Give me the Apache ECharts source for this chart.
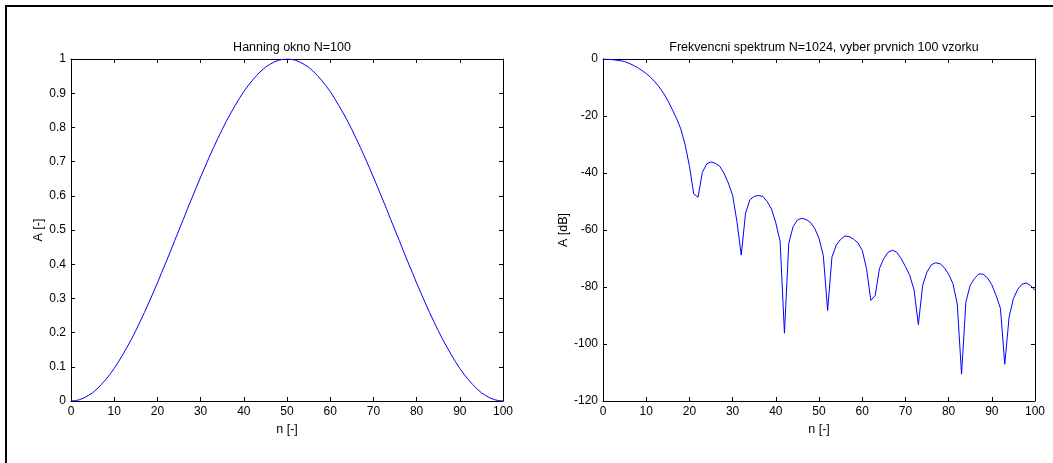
<!DOCTYPE html>
<html>
<head>
<meta charset="utf-8">
<script src="https://cdn.jsdelivr.net/npm/echarts@6/dist/echarts.min.js"></script>
<style>
html,body{margin:0;padding:0;background:#fff;}
#chart{width:1053px;height:463px;}
</style>
</head>
<body>
<div id="chart"></div>
<script>
// ---- data ----
const leftTitle = 'Hanning okno N=100';
const rightTitle = 'Frekvencni spektrum N=1024, vyber prvnich 100 vzorku';
const xName = 'n [-]';
const leftYName = 'A [-]';
const rightYName = 'A [dB]';

const sampleIndex = Array.from({length: 101}, (_, i) => i); // n = 0..100

const hanningValues = [
  0.000, 0.001, 0.004, 0.009, 0.016, 0.024, 0.035, 0.048, 0.062, 0.078,
  0.095, 0.115, 0.136, 0.158, 0.181, 0.206, 0.232, 0.259, 0.287, 0.316,
  0.345, 0.376, 0.406, 0.437, 0.469, 0.500, 0.531, 0.563, 0.594, 0.624,
  0.655, 0.684, 0.713, 0.741, 0.768, 0.794, 0.819, 0.842, 0.864, 0.885,
  0.905, 0.922, 0.938, 0.952, 0.965, 0.976, 0.984, 0.991, 0.996, 0.999,
  1.000,
  0.999, 0.996, 0.991, 0.984, 0.976, 0.965, 0.952, 0.938, 0.922, 0.905,
  0.885, 0.864, 0.842, 0.819, 0.794, 0.768, 0.741, 0.713, 0.684, 0.655,
  0.624, 0.594, 0.563, 0.531, 0.500, 0.469, 0.437, 0.406, 0.376, 0.345,
  0.316, 0.287, 0.259, 0.232, 0.206, 0.181, 0.158, 0.136, 0.115, 0.095,
  0.078, 0.062, 0.048, 0.035, 0.024, 0.016, 0.009, 0.004, 0.001, 0.000
];

const spectrumDb = [
  0.0, -0.1, -0.2, -0.4, -0.6, -0.9, -1.5, -2.2, -3.0, -4.0,
  -5.1, -6.4, -8.0, -9.8, -12.0, -14.6, -17.6, -20.8, -24.5, -30.0,
  -37.5, -47.3, -48.5, -39.8, -36.8, -36.1, -36.6, -37.6, -40.0, -43.5,
  -47.8, -57.0, -68.8, -54.1, -49.4, -48.2, -47.9, -48.2, -50.0, -52.6,
  -57.5, -64.0, -96.2, -64.7, -58.8, -56.5, -55.9, -56.3, -57.3, -59.4,
  -62.9, -69.0, -88.2, -69.5, -65.3, -63.3, -62.1, -62.3, -63.2, -64.5,
  -67.1, -73.5, -84.7, -83.0, -73.5, -70.0, -67.8, -67.1, -67.8, -70.0,
  -72.8, -75.9, -81.0, -93.2, -79.4, -74.7, -72.2, -71.5, -71.8, -73.2,
  -75.5, -78.8, -85.9, -110.6, -85.3, -79.4, -77.0, -75.4, -75.5, -76.8,
  -79.2, -83.0, -87.5, -107.1, -90.6, -84.1, -80.8, -79.0, -78.6, -79.5,
  -81.2
];

const xTicks = [0, 10, 20, 30, 40, 50, 60, 70, 80, 90, 100];
const leftYTicks = ['0', '0.1', '0.2', '0.3', '0.4', '0.5', '0.6', '0.7', '0.8', '0.9', '1'];
const rightYTicks = [-120, -100, -80, -60, -40, -20, 0];

// ---- chart ----
const FONT = '"Liberation Sans", Arial, Helvetica, sans-serif';
const black = '#000';

function mainX(grid, name) {
  return {
    gridIndex: grid, type: 'value', position: 'bottom',
    min: xTicks[0], max: xTicks[xTicks.length - 1], interval: xTicks[1] - xTicks[0],
    axisLine: {show: true, onZero: false, lineStyle: {color: black, width: 1}},
    axisTick: {show: true, inside: true, length: 4, lineStyle: {color: black}},
    axisLabel: {color: black, fontSize: 12, fontFamily: FONT, margin: 5},
    splitLine: {show: false},
    name: name, nameLocation: 'middle', nameGap: 22,
    nameTextStyle: {color: black, fontSize: 12.5, fontFamily: FONT}
  };
}
function topX(grid) {
  return {
    gridIndex: grid, type: 'value', position: 'top',
    min: xTicks[0], max: xTicks[xTicks.length - 1], interval: xTicks[1] - xTicks[0],
    axisLine: {show: true, onZero: false, lineStyle: {color: black, width: 1}},
    axisTick: {show: true, inside: true, length: 4, lineStyle: {color: black}},
    axisLabel: {show: false}, splitLine: {show: false}
  };
}
function mainY(grid, min, max, interval, name, gap, fmt) {
  return {
    gridIndex: grid, type: 'value', position: 'left',
    min: min, max: max, interval: interval,
    axisLine: {show: true, onZero: false, lineStyle: {color: black, width: 1}},
    axisTick: {show: true, inside: true, length: 4, lineStyle: {color: black}},
    axisLabel: {color: black, fontSize: 12, fontFamily: FONT, margin: 5, formatter: fmt},
    splitLine: {show: false},
    name: name, nameLocation: 'middle', nameGap: gap, nameRotate: 90,
    nameTextStyle: {color: black, fontSize: 12.5, fontFamily: FONT}
  };
}
function rightY(grid, min, max, interval) {
  return {
    gridIndex: grid, type: 'value', position: 'right',
    min: min, max: max, interval: interval,
    axisLine: {show: true, onZero: false, lineStyle: {color: black, width: 1}},
    axisTick: {show: true, inside: true, length: 4, lineStyle: {color: black}},
    axisLabel: {show: false}, splitLine: {show: false}
  };
}

const leftFmt = function (v) {
  const idx = Math.round(v * 10);
  return leftYTicks[idx] !== undefined ? leftYTicks[idx] : String(v);
};
const rightFmt = function (v) { return String(Math.round(v)); };

const chart = echarts.init(document.getElementById('chart'), null, {renderer: 'canvas'});
chart.setOption({
  backgroundColor: '#fff',
  animation: false,
  title: [
    {text: leftTitle, left: 287, top: 36, textAlign: 'center',
     textStyle: {color: black, fontSize: 12.5, fontWeight: 'normal', fontFamily: FONT}},
    {text: rightTitle, left: 819, top: 36, textAlign: 'center',
     textStyle: {color: black, fontSize: 12.5, fontWeight: 'normal', fontFamily: FONT}}
  ],
  grid: [
    {left: 71, top: 59, width: 432, height: 342, containLabel: false},
    {left: 603, top: 59, width: 432, height: 342, containLabel: false}
  ],
  xAxis: [mainX(0, xName), topX(0), mainX(1, xName), topX(1)],
  yAxis: [
    mainY(0, 0, 1, 0.1, leftYName, 26, leftFmt),
    rightY(0, 0, 1, 0.1),
    mainY(1, rightYTicks[0], rightYTicks[rightYTicks.length - 1], rightYTicks[1] - rightYTicks[0], rightYName, 29, rightFmt),
    rightY(1, rightYTicks[0], rightYTicks[rightYTicks.length - 1], rightYTicks[1] - rightYTicks[0])
  ],
  graphic: [
    {type: 'polyline', shape: {points: [[6, 470], [6, 6], [1060, 6]]},
     style: {stroke: black, lineWidth: 2, fill: null}, silent: true}
  ],
  series: [
    {type: 'line', xAxisIndex: 0, yAxisIndex: 0, showSymbol: false, symbol: 'none',
     data: sampleIndex.map((n, i) => [n, hanningValues[i]]),
     lineStyle: {color: '#0000ff', width: 1}, itemStyle: {color: '#0000ff'}},
    {type: 'line', xAxisIndex: 2, yAxisIndex: 2, showSymbol: false, symbol: 'none',
     data: sampleIndex.map((n, i) => [n, spectrumDb[i]]),
     lineStyle: {color: '#0000ff', width: 1}, itemStyle: {color: '#0000ff'}}
  ]
});
</script>
</body>
</html>
